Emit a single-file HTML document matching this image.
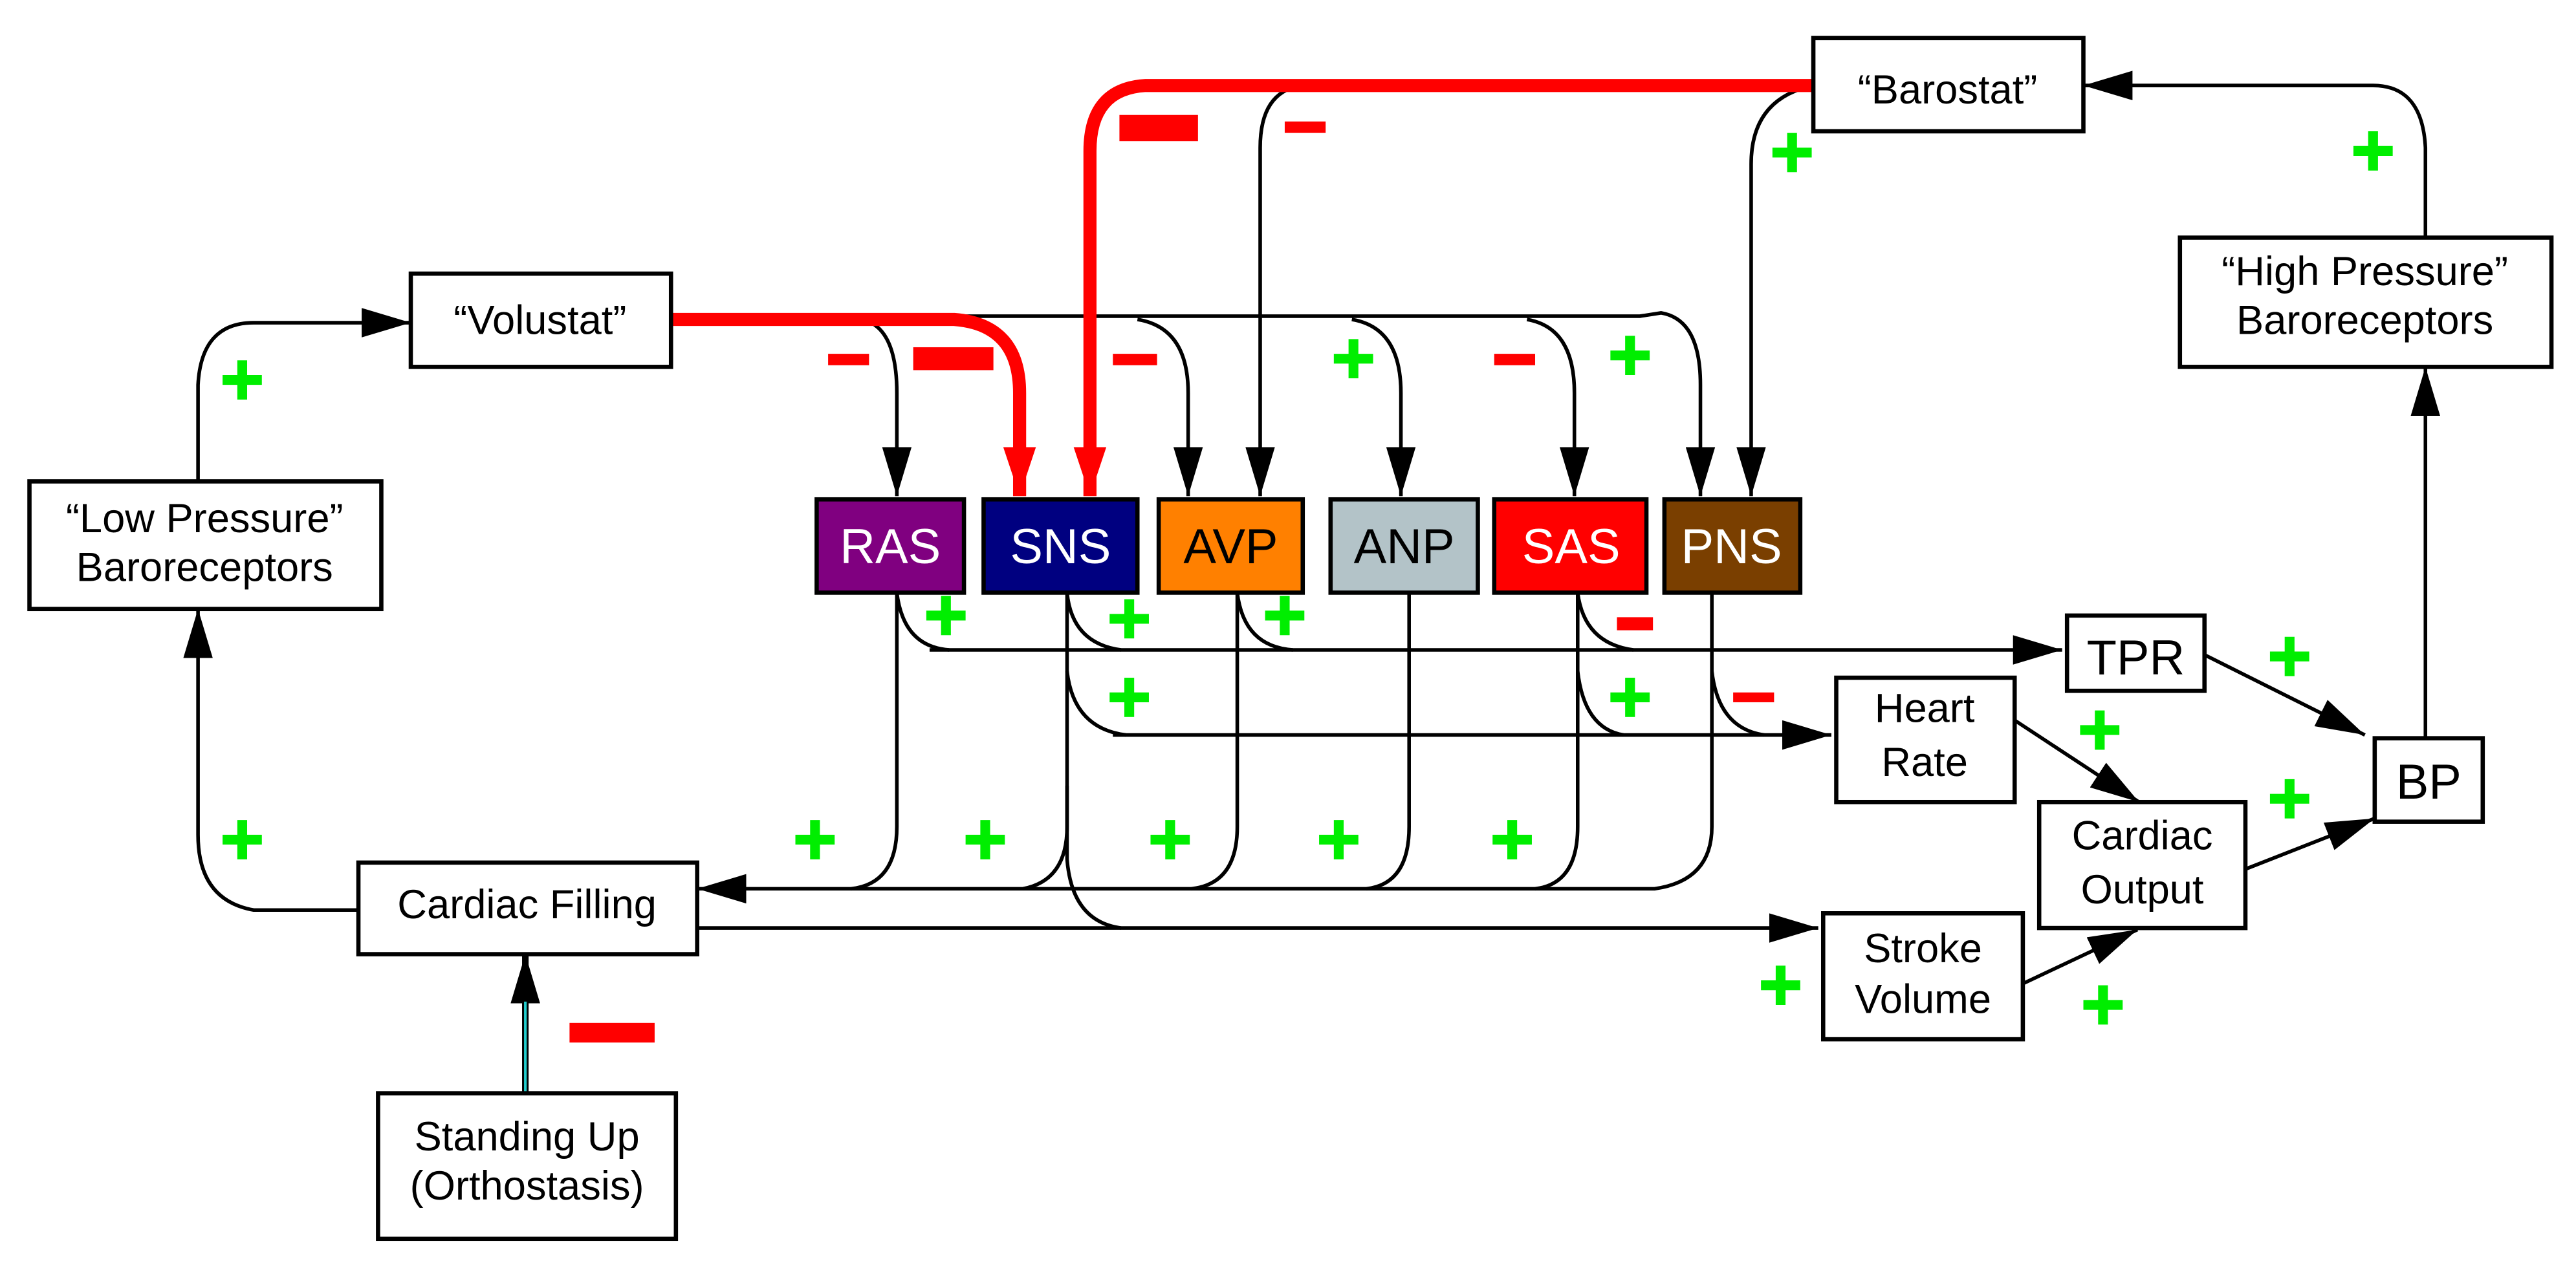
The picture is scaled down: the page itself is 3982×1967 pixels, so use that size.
<!DOCTYPE html>
<html><head><meta charset="utf-8"><style>
html,body{margin:0;padding:0;background:#fff;}
svg{display:block;}
text{font-family:"Liberation Sans",Arial,sans-serif;text-anchor:middle;}
</style></head><body>
<svg width="3982" height="1967" viewBox="0 0 1574 777" xmlns="http://www.w3.org/2000/svg">
<defs>
<marker id="a" markerUnits="userSpaceOnUse" markerWidth="30" markerHeight="18" refX="30" refY="9" orient="auto"><path d="M0,0 L30,9 L0,18 z" fill="#000"/></marker>
<marker id="r" markerUnits="userSpaceOnUse" markerWidth="30" markerHeight="20" refX="30" refY="10" orient="auto"><path d="M0,0 L30,10 L0,20 z" fill="#f00"/></marker>
</defs>
<rect width="1574" height="777" fill="#fff"/>
<g fill="none" stroke="#000" stroke-width="2.2">
<!-- top volustat bus -->
<path d="M583,193 L1002,193 L1015,191 Q1039,195 1039,235 L1039,303" marker-end="url(#a)"/>
<path d="M527,195 Q548,200 548,240 L548,303" marker-end="url(#a)"/>
<path d="M695,195 Q726,200 726,240 L726,303" marker-end="url(#a)"/>
<path d="M826,195 Q856,200 856,240 L856,303" marker-end="url(#a)"/>
<path d="M933,195 Q962,200 962,240 L962,303" marker-end="url(#a)"/>
<!-- barostat branches -->
<path d="M795,52 Q770,56 770,90 L770,303" marker-end="url(#a)"/>
<path d="M1108,52 Q1070,60 1070,100 L1070,303" marker-end="url(#a)"/>
<path d="M1482,145 L1482,90 Q1480,52 1450,52 L1273,52" marker-end="url(#a)"/>
<!-- low pressure loop -->
<path d="M219,556 L155,556 Q121,550 121,510 L121,372" marker-end="url(#a)"/>
<path d="M121,294 L121,235 Q123,197 155,197 L251,197" marker-end="url(#a)"/>
<!-- cardiac filling return -->
<path d="M1046,362 L1046,505 Q1046,538 1011,543 L426,543" marker-end="url(#a)"/>
<path d="M548,362 L548,505 Q548,540 520,543"/>
<path d="M652,362 L652,505 Q652,538 625,543"/>
<path d="M756,362 L756,505 Q756,540 728,543"/>
<path d="M861,362 L861,505 Q861,540 835,543"/>
<path d="M964,362 L964,505 Q964,540 938,543"/>
<path d="M652,480 L652,525 Q655,563 685,567"/>
<!-- stroke volume line -->
<path d="M426,567 L1111,567" marker-end="url(#a)"/>
<!-- TPR line -->
<path d="M568,397 L1260,397" marker-end="url(#a)"/>
<path d="M548,362 Q552,395 580,397"/>
<path d="M652,362 Q655,393 685,397"/>
<path d="M756,362 Q760,395 790,397"/>
<path d="M964,362 Q968,393 998,397"/>
<!-- HR line -->
<path d="M680,449 L1119,449" marker-end="url(#a)"/>
<path d="M652,410 Q656,445 688,449"/>
<path d="M964,410 Q968,445 992,449"/>
<path d="M1046,410 Q1050,445 1078,449"/>
<!-- right side -->
<path d="M1347,400 L1445,449" marker-end="url(#a)"/>
<path d="M1231,440 L1307,490" marker-end="url(#a)"/>
<path d="M1372,531 L1451,500" marker-end="url(#a)"/>
<path d="M1236,601 L1306,568" marker-end="url(#a)"/>
<path d="M1482,451 L1482,224" marker-end="url(#a)"/>
<!-- standing up -->
<path d="M321,668 L321,583" stroke-width="4" marker-end="url(#a)"/>
</g>
<line x1="321" y1="667" x2="321" y2="612" stroke="#2cc" stroke-width="1.6"/>
<!-- red thick lines -->
<g fill="none" stroke="#f00" stroke-width="8">
<path d="M410,195 L583,195 Q623,198 623,240 L623,303" marker-end="url(#r)"/>
<path d="M1108,52 L700,52 Q666,54 666,92 L666,303" marker-end="url(#r)"/>
</g>
<!-- boxes -->
<g stroke="#000" stroke-width="2.6">
<rect x="251" y="167" width="159" height="57" fill="#fff"/>
<rect x="18" y="294" width="215" height="78" fill="#fff"/>
<rect x="1108" y="23" width="165" height="57" fill="#fff"/>
<rect x="1332" y="145" width="227" height="79" fill="#fff"/>
<rect x="219" y="527" width="207" height="56" fill="#fff"/>
<rect x="231" y="668" width="182" height="89" fill="#fff"/>
<rect x="1263" y="376" width="84" height="46" fill="#fff"/>
<rect x="1122" y="414" width="109" height="76" fill="#fff"/>
<rect x="1246" y="490" width="126" height="77" fill="#fff"/>
<rect x="1451" y="451" width="66" height="51" fill="#fff"/>
<rect x="1114" y="558" width="122" height="77" fill="#fff"/>
<rect x="499" y="305" width="90" height="57" fill="#800080"/>
<rect x="601" y="305" width="94" height="57" fill="#000080"/>
<rect x="708" y="305" width="88" height="57" fill="#ff8000"/>
<rect x="813" y="305" width="90" height="57" fill="#b3c3c8"/>
<rect x="913" y="305" width="93" height="57" fill="#ff0000"/>
<rect x="1017" y="305" width="83" height="57" fill="#7a3f00"/>
</g>
<!-- labels -->
<g font-size="25" fill="#000">
<text x="330" y="204">“Volustat”</text>
<text x="125" y="325">“Low Pressure”</text>
<text x="125" y="355">Baroreceptors</text>
<text x="1190" y="63">“Barostat”</text>
<text x="1445" y="174">“High Pressure”</text>
<text x="1445" y="204">Baroreceptors</text>
<text x="322" y="561">Cardiac Filling</text>
<text x="322" y="703">Standing Up</text>
<text x="322" y="733">(Orthostasis)</text>
<text x="1176" y="441">Heart</text>
<text x="1176" y="474">Rate</text>
<text x="1309" y="519">Cardiac</text>
<text x="1309" y="552">Output</text>
<text x="1175" y="588">Stroke</text>
<text x="1175" y="619">Volume</text>
</g>
<g font-size="30">
<text x="1305" y="412">TPR</text>
<text x="1484" y="488">BP</text>
<text x="544" y="344" fill="#fff">RAS</text>
<text x="648" y="344" fill="#fff">SNS</text>
<text x="752" y="344" fill="#000">AVP</text>
<text x="858" y="344" fill="#000">ANP</text>
<text x="960" y="344" fill="#fff">SAS</text>
<text x="1058" y="344" fill="#fff">PNS</text>
</g>
<!-- plus signs -->
<g fill="#00ee00">
<path id="p" d="M-3,-12 h6 v9 h9 v6 h-9 v9 h-6 v-9 h-9 v-6 h9 z" transform="translate(148,232)"/>
<use href="#p" transform="translate(-148,-232) translate(148,513)"/>
<use href="#p" transform="translate(-148,-232) translate(498,513)"/>
<use href="#p" transform="translate(-148,-232) translate(602,513)"/>
<use href="#p" transform="translate(-148,-232) translate(715,513)"/>
<use href="#p" transform="translate(-148,-232) translate(818,513)"/>
<use href="#p" transform="translate(-148,-232) translate(924,513)"/>
<use href="#p" transform="translate(-148,-232) translate(578,376)"/>
<use href="#p" transform="translate(-148,-232) translate(690,378)"/>
<use href="#p" transform="translate(-148,-232) translate(785,376)"/>
<use href="#p" transform="translate(-148,-232) translate(690,426)"/>
<use href="#p" transform="translate(-148,-232) translate(996,426)"/>
<use href="#p" transform="translate(-148,-232) translate(827,219)"/>
<use href="#p" transform="translate(-148,-232) translate(996,217)"/>
<use href="#p" transform="translate(-148,-232) translate(1095,93)"/>
<use href="#p" transform="translate(-148,-232) translate(1450,92)"/>
<use href="#p" transform="translate(-148,-232) translate(1399,401)"/>
<use href="#p" transform="translate(-148,-232) translate(1283,446)"/>
<use href="#p" transform="translate(-148,-232) translate(1399,488)"/>
<use href="#p" transform="translate(-148,-232) translate(1088,602)"/>
<use href="#p" transform="translate(-148,-232) translate(1285,614)"/>
</g>
<!-- minus signs -->
<g fill="#f00">
<rect x="506" y="216" width="25" height="7"/>
<rect x="558" y="212" width="49" height="14"/>
<rect x="680" y="216" width="27" height="7"/>
<rect x="684" y="70" width="48" height="16"/>
<rect x="785" y="74" width="25" height="7"/>
<rect x="913" y="216" width="25" height="7"/>
<rect x="988" y="377" width="22" height="8"/>
<rect x="1059" y="423" width="25" height="6"/>
<rect x="348" y="625" width="52" height="12"/>
</g>
</svg>
</body></html>
